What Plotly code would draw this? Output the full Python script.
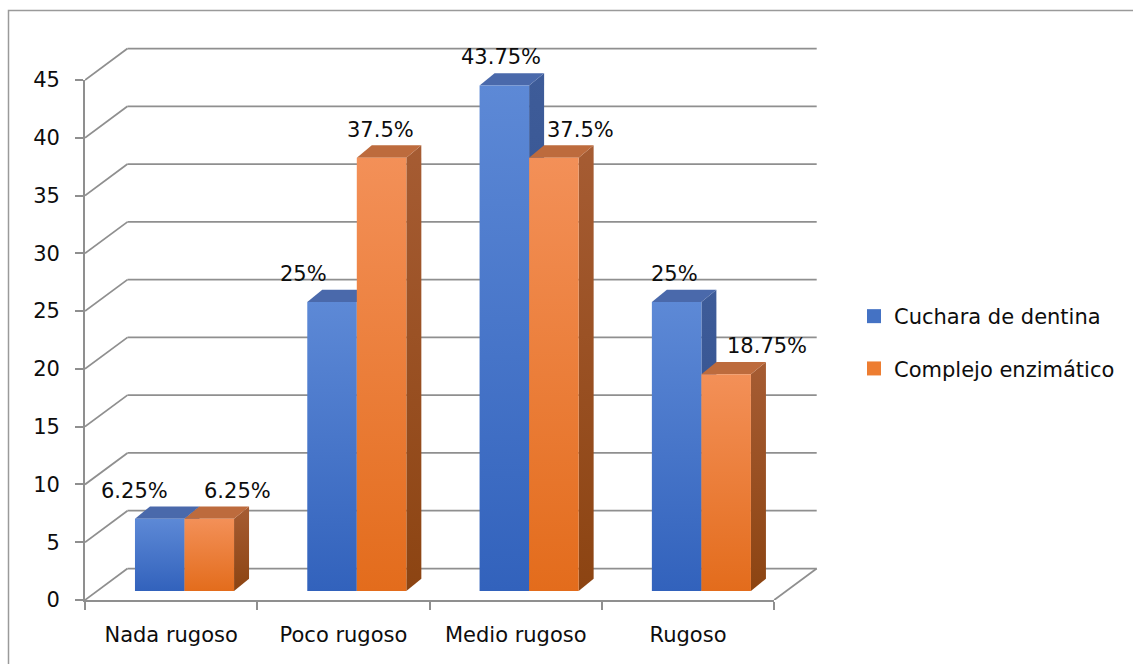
import plotly.graph_objects as go

# ---------------- data ----------------
categories = ["Nada rugoso", "Poco rugoso", "Medio rugoso", "Rugoso"]
series_names = ["Cuchara de dentina", "Complejo enzimático"]
cuchara = [6.25, 25, 43.75, 25]
complejo = [6.25, 37.5, 37.5, 18.75]
y_ticks = [0, 5, 10, 15, 20, 25, 30, 35, 40, 45]

# ---------------- style / geometry ----------------
W, H = 1133, 664
FONT = "DejaVu Sans"
FS = 21
TXT = "#0d0d0d"
GRID = "#8f8f8f"
LW = 1.75

PX_L, PX_FLOOR, PX_TOP = 85, 600, 80          # front axes corners (pixels)
SX = 172.3                                   # px per category
SY = (PX_FLOOR - PX_TOP) / 45.0              # px per value unit
PX_R2, PX_T2 = 818, 47                       # back wall extents (pixels)

DXW, DYW = 42.5 / SX, 31.5 / SY              # wall depth offset (data units)
BASE = 9 / SY                                # bar base above floor
BAR_X = [0.29, 0.5775]                       # bar left edges within category
BAR_W = 0.2875
DXB, DYB = 15 / SX, 12.3 / SY                # bar depth offset

colors = {
    "front": [["#3262bc", "#5d89d6"], ["#e36c1c", "#f39058"]],
    "top": ["#4a69ab", "#bd6b3d"],
    "side": [["#2d4b88", "#3e5c99"], ["#8c4412", "#a65c33"]],
    "legend": ["#4472c4", "#ed7d31"],
}
label_dx = [[-25, -29, -3, -2], [28, -1, 27, 41]]   # px shifts of value labels
label_dy = 28


def fx(px):
    return px / W


def fy(py):
    return (H - py) / H


fig = go.Figure()

# ---- back wall / floor grid (subplot 2) ----
gx, gy = [], []
for v in y_ticks:
    gx += [DXW, 4 + DXW, None, 0, DXW, None]
    gy += [v + DYW, v + DYW, None, v, v + DYW, None]
gx += [4, 4 + DXW, None]
gy += [0, DYW, None]
fig.add_trace(go.Scatter(x=gx, y=gy, mode="lines", line=dict(color=GRID, width=LW),
                         xaxis="x2", yaxis="y2", showlegend=False, hoverinfo="skip"))

# ---- 3D bars ----
annotations = []
series_vals = [cuchara, complejo]
for i in range(len(categories)):
    for s, vals in enumerate(series_vals):
        v = vals[i]
        x0 = i + BAR_X[s]
        x1 = x0 + BAR_W
        top = BASE + v
        # side face
        fig.add_trace(go.Scatter(
            x=[x1, x1 + DXB, x1 + DXB, x1, x1],
            y=[BASE, BASE + DYB, top + DYB, top, BASE],
            fill="toself", mode="lines", line=dict(width=0),
            fillgradient=dict(type="vertical",
                              colorscale=[[0, colors["side"][s][0]], [1, colors["side"][s][1]]]),
            xaxis="x2", yaxis="y2", showlegend=False, hoverinfo="skip"))
        # top face
        fig.add_trace(go.Scatter(
            x=[x0, x1, x1 + DXB, x0 + DXB, x0],
            y=[top, top, top + DYB, top + DYB, top],
            fill="toself", mode="lines", line=dict(width=0),
            fillcolor=colors["top"][s],
            xaxis="x2", yaxis="y2", showlegend=False, hoverinfo="skip"))
        # front face
        fig.add_trace(go.Scatter(
            x=[x0, x1, x1, x0, x0],
            y=[BASE, BASE, top, top, BASE],
            fill="toself", mode="lines", line=dict(width=0),
            fillgradient=dict(type="vertical",
                              colorscale=[[0, colors["front"][s][0]], [1, colors["front"][s][1]]]),
            xaxis="x2", yaxis="y2", showlegend=False,
            name=series_names[s], hoverinfo="skip"))
        annotations.append(dict(
            x=(x0 + x1) / 2, y=top, xref="x2", yref="y2",
            text=f"{v:g}%", showarrow=False, xanchor="center", yanchor="middle",
            xshift=label_dx[s][i], yshift=label_dy,
            font=dict(family=FONT, size=FS, color=TXT)))

# ---- legend entries ----
for s in range(2):
    fig.add_trace(go.Scatter(
        x=[None], y=[None], mode="markers", name=series_names[s],
        marker=dict(symbol="square", size=14, color=colors["legend"][s]),
        xaxis="x2", yaxis="y2", legendgroup=f"g{s}", showlegend=True))

# invisible anchors for front axes
fig.add_trace(go.Scatter(x=[None], y=[None], xaxis="x", yaxis="y", showlegend=False))
fig.add_trace(go.Scatter(x=[None], y=[None], xaxis="x3", yaxis="y", showlegend=False))

# outer frame
shapes = [dict(type="rect", xref="paper", yref="paper",
               x0=fx(8.5), x1=1.2, y0=-0.2, y1=fy(10.5),
               line=dict(color="#9a9a9a", width=1.5), fillcolor="rgba(0,0,0,0)")]

x_front_right = PX_L + 4 * SX
fig.update_layout(
    width=W, height=H, template="none",
    margin=dict(l=0, r=0, t=0, b=0, pad=0),
    paper_bgcolor="white", plot_bgcolor="rgba(0,0,0,0)",
    font=dict(family=FONT, size=FS, color=TXT),
    xaxis=dict(domain=[fx(PX_L), fx(x_front_right)], range=[0, 4], anchor="y",
               tickvals=[0, 1, 2, 3, 4], ticks="outside", ticklen=8, tickwidth=LW,
               tickcolor=GRID, showticklabels=False, showline=True, linecolor=GRID,
               linewidth=LW, showgrid=False, zeroline=False, automargin=False, fixedrange=True),
    xaxis3=dict(overlaying="x", anchor="y", side="bottom", range=[0, 4],
                tickvals=[0.5, 1.5, 2.5, 3.5], ticktext=categories, ticks="",
                showline=False, showgrid=False, zeroline=False, ticklabelstandoff=20,
                tickfont=dict(family=FONT, size=FS, color=TXT), automargin=False),
    yaxis=dict(domain=[fy(PX_FLOOR), fy(PX_TOP)], range=[0, 45], anchor="x",
               tickvals=y_ticks, ticks="outside", ticklen=8, tickwidth=LW, tickcolor=GRID,
               showline=True, linecolor=GRID, linewidth=LW, showgrid=False, zeroline=False,
               ticklabelstandoff=11, tickfont=dict(family=FONT, size=FS, color=TXT),
               automargin=False),
    xaxis2=dict(domain=[fx(PX_L), fx(PX_R2)], range=[0, (PX_R2 - PX_L) / SX],
                anchor="y2", visible=False, automargin=False),
    yaxis2=dict(domain=[fy(PX_FLOOR), fy(PX_T2)], range=[0, (PX_FLOOR - PX_T2) / SY],
                anchor="x2", visible=False, automargin=False),
    legend=dict(x=fx(854), xanchor="left", y=fy(342.5), yanchor="middle",
                font=dict(family=FONT, size=FS, color=TXT), tracegroupgap=22,
                bgcolor="rgba(0,0,0,0)", traceorder="grouped"),
    annotations=annotations,
    shapes=shapes,
    showlegend=True,
)

fig.write_html("out.html")
